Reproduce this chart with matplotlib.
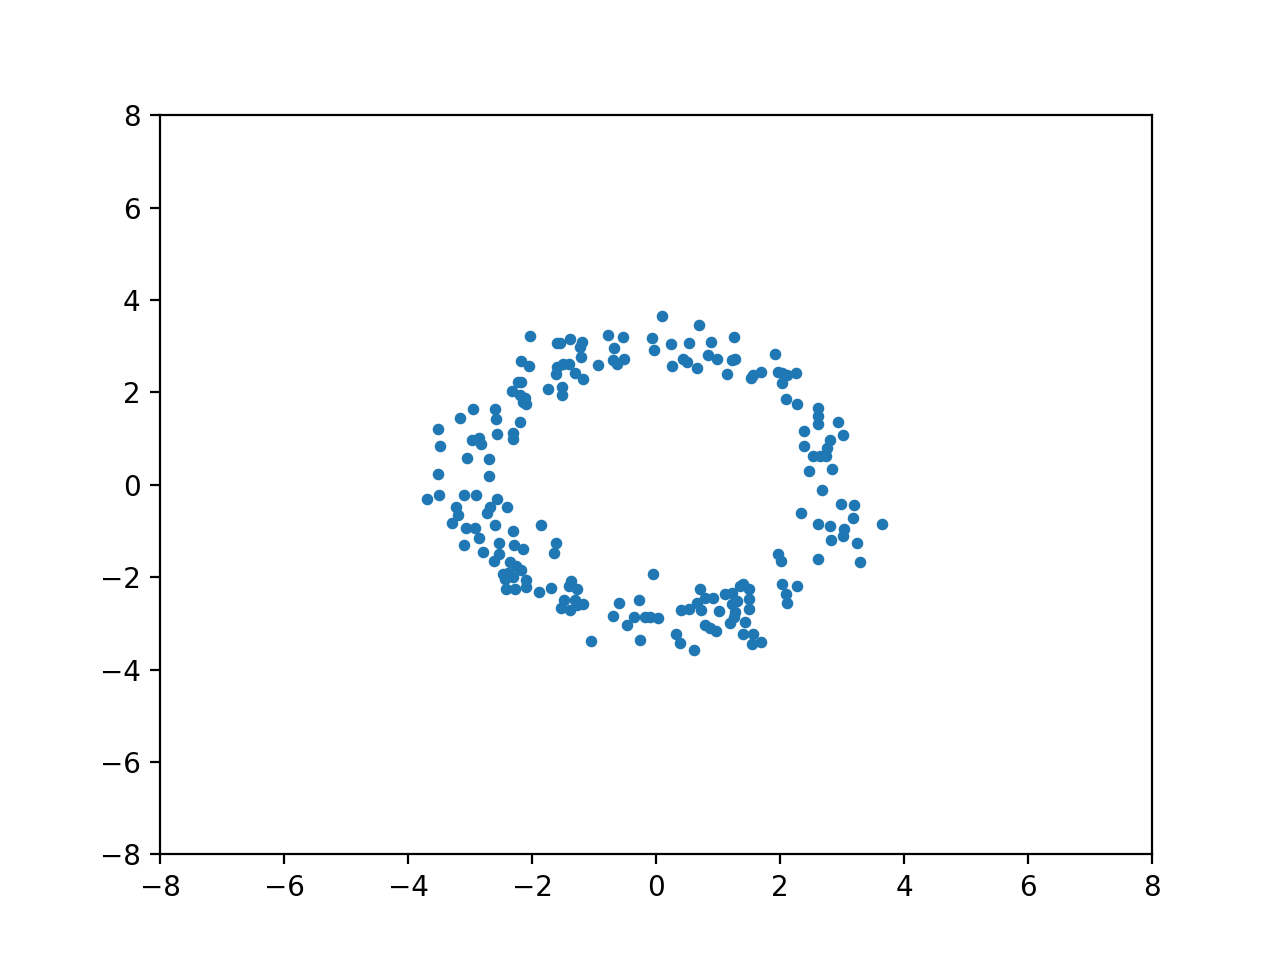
import matplotlib
matplotlib.use("Agg")
import numpy as np
import matplotlib.pyplot as plt

# points (ring of samples)
x_top = [-2.03, -1.59, -1.55, -1.38, -1.19, -1.23, -1.21, -0.77, -0.53, -0.67,
         -0.06, -0.04, 0.10, -2.17, -2.05, -1.60, -1.50, -1.40, -1.61, -1.31,
         -1.17, -0.93, -0.69, -0.63, -0.51, -2.22, -2.17, -2.33, -2.19, -2.11,
         -2.14, -2.09, -1.75, -1.51, -1.52, -2.95, -2.60, -3.16, -2.58, -2.19,
         -3.51, -3.48, -2.97, -2.85, -2.82, -2.56, -2.31, -2.31, -3.05, -2.69,
         -3.52, -2.70,
         0.70, 0.24, 0.54, 0.89, 1.26, 0.26, 0.44, 0.50, 0.66, 0.84,
         0.98, 1.15, 1.22, 1.27, 1.92, 1.54, 1.57, 1.70, 1.97, 2.03,
         2.11, 2.25, 2.04, 2.10, 2.28, 2.61, 2.61, 2.61, 2.94, 3.02,
         2.39, 2.39, 2.80, 2.76, 2.54, 2.65, 2.74, 2.46, 2.84, 2.68]
y_top = [3.21, 3.07, 3.06, 3.15, 3.09, 2.98, 2.77, 3.24, 3.19, 2.97,
         3.17, 2.91, 3.65, 2.67, 2.57, 2.54, 2.62, 2.62, 2.39, 2.42,
         2.30, 2.60, 2.71, 2.62, 2.73, 2.23, 2.23, 2.02, 1.94, 1.87,
         1.79, 1.74, 2.08, 2.12, 1.95, 1.63, 1.63, 1.45, 1.43, 1.35,
         1.20, 0.83, 0.96, 1.02, 0.89, 1.09, 1.13, 1.00, 0.57, 0.55,
         0.23, 0.18,
         3.45, 3.04, 3.07, 3.10, 3.19, 2.58, 2.73, 2.66, 2.52, 2.80,
         2.73, 2.39, 2.70, 2.72, 2.83, 2.32, 2.37, 2.44, 2.44, 2.41,
         2.37, 2.41, 2.21, 1.85, 1.74, 1.66, 1.48, 1.32, 1.35, 1.07,
         1.16, 0.83, 0.96, 0.80, 0.62, 0.62, 0.62, 0.29, 0.34, -0.12]

x_bot = [-3.69, -3.50, -3.10, -2.91, -2.56, -3.23, -3.19, -3.29, -2.68, -2.72,
         -2.40, -3.06, -2.92, -2.59, -2.30, -1.85, -2.85, -3.10, -2.53, -2.29,
         -2.14, -1.61, -1.65, -2.79, -2.53, -2.61, -2.35, -2.26, -2.18, -2.46,
         -2.38, -2.30, -2.44, -2.10, -2.10, -2.42, -2.27, -1.88, -1.69, -1.37,
         -1.40, -1.28, -1.48, -1.53, -1.39, -1.30, -1.28, -1.17, -1.05, -0.60,
         -0.69, -0.47, -0.27, -0.35, -0.18, -0.10, 0.03, -0.26, -0.05,
         2.98, 3.20, 3.18, 3.65, 2.34, 2.62, 2.80, 3.04, 3.02, 2.82,
         3.24, 3.29, 2.62, 1.97, 2.02, 2.04, 2.28, 2.10, 2.12, 0.71,
         0.66, 0.79, 0.92, 0.40, 0.54, 0.73, 1.02, 1.11, 1.22, 1.35,
         1.41, 1.50, 1.31, 1.22, 1.27, 1.26, 1.19, 1.50, 1.50, 1.44,
         0.79, 0.87, 0.96, 1.40, 1.56, 1.55, 1.70, 0.32, 0.38, 0.62]
y_bot = [-0.30, -0.23, -0.21, -0.21, -0.30, -0.48, -0.66, -0.82, -0.48, -0.60,
         -0.47, -0.93, -0.94, -0.88, -0.99, -0.88, -1.16, -1.31, -1.26, -1.31,
         -1.38, -1.26, -1.48, -1.45, -1.50, -1.66, -1.67, -1.76, -1.85, -1.92,
         -1.91, -2.00, -2.03, -2.05, -2.21, -2.25, -2.25, -2.31, -2.23, -2.08,
         -2.18, -2.25, -2.50, -2.66, -2.70, -2.49, -2.61, -2.59, -3.39, -2.56,
         -2.83, -3.04, -2.50, -2.86, -2.86, -2.86, -2.88, -3.37, -1.94,
         -0.41, -0.44, -0.71, -0.84, -0.62, -0.84, -0.90, -0.96, -1.11, -1.19,
         -1.27, -1.67, -1.60, -1.50, -1.66, -2.14, -2.20, -2.36, -2.55, -2.25,
         -2.56, -2.46, -2.46, -2.72, -2.68, -2.70, -2.74, -2.37, -2.34, -2.18,
         -2.15, -2.26, -2.52, -2.57, -2.75, -2.86, -2.99, -2.48, -2.68, -2.97,
         -3.03, -3.10, -3.17, -3.22, -3.24, -3.44, -3.40, -3.24, -3.42, -3.57]

x = np.array(x_top + x_bot)
y = np.array(y_top + y_bot)

fig, ax = plt.subplots(figsize=(6.4, 4.8), dpi=200)
ax.scatter(x, y, s=10)
ax.set_xlim(-8, 8)
ax.set_ylim(-8, 8)
fig.savefig("out.png", dpi=200)
